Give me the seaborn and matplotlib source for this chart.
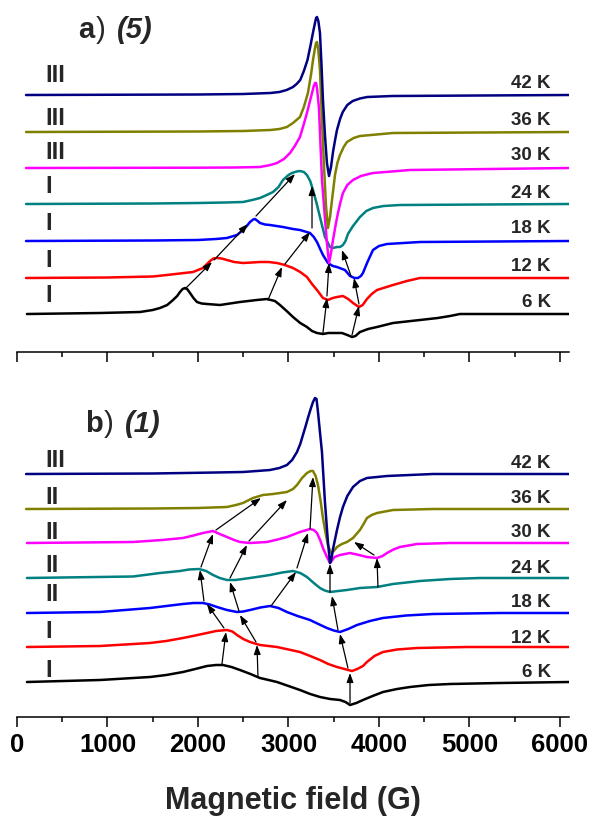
import numpy as np
import pandas as pd
import matplotlib
matplotlib.use('Agg')
import matplotlib.pyplot as plt
import seaborn as sns
from matplotlib.ticker import MultipleLocator

# ---------------- data ----------------
temps = ['6 K', '12 K', '18 K', '24 K', '30 K', '36 K', '42 K']
colors = ['#000000', '#FF0000', '#0000FF', '#008080', '#FF00FF', '#808000', '#000080']

a_offsets = [38, 74, 111, 148, 184, 220, 257]
b_offsets = [35, 70, 104, 139, 174, 208, 243]
a_phases = ['I', 'I', 'I', 'I', 'III', 'III', 'III']
b_phases = ['I', 'I', 'II', 'II', 'II', 'II', 'III']

# panel a) (5)
a06_field = [110, 917, 1359, 1500, 1580, 1660, 1724, 1770, 1801, 1830, 1856, 1880, 1912, 1950, 1989, 2040, 2099, 2243, 2464, 2650, 2762, 2850, 2906, 2980, 3050, 3130, 3204, 3260, 3315, 3381, 3440, 3492, 3591, 3650, 3702, 3740, 3790, 3880, 3978, 4155, 4453, 4650, 4785, 4895, 6100]
a06_signal = [0, 1, 2, 4, 6, 9, 14, 18, 22, 25, 26, 25, 21, 16, 12, 10.5, 10, 9, 12, 14, 15, 13, 9, 3, -3, -9, -13, -17, -19, -20, -19, -19, -19, -21, -23, -22, -18, -15, -13, -9, -6, -4, -2, 0, 0]
a12_field = [100, 1000, 1500, 1657, 1800, 1945, 2000, 2055, 2100, 2133, 2170, 2210, 2260, 2320, 2400, 2497, 2600, 2685, 2780, 2873, 2960, 3050, 3130, 3204, 3260, 3315, 3381, 3436, 3490, 3536, 3602, 3660, 3713, 3779, 3820, 3867, 3920, 3978, 4155, 4309, 4453, 6100]
a12_signal = [0, 0.5, 1.5, 3, 4.5, 6, 8, 10, 14, 17, 19.5, 20, 19.5, 18, 16, 15, 15.5, 16, 16, 15, 13, 10, 6, 1, -6, -12, -20, -22, -20, -19, -18, -21, -25, -29, -27, -21, -16, -12, -7, -3, 0, 0]
a18_field = [100, 1500, 2000, 2200, 2320, 2431, 2497, 2540, 2575, 2610, 2630, 2660, 2685, 2740, 2796, 2939, 3050, 3127, 3238, 3280, 3315, 3350, 3381, 3436, 3490, 3536, 3624, 3680, 3730, 3768, 3800, 3823, 3850, 3878, 3934, 4000, 4088, 4453, 6100]
a18_signal = [0, 0.5, 1, 2, 3, 6, 11, 15, 19, 21.5, 22, 20, 18, 16.5, 16, 14, 12, 11, 8, 4, -1, -8, -14, -22, -25, -26, -29, -35, -37, -37, -35, -32, -26, -20, -9, -5, -3, -1, 0]
a24_field = [100, 1500, 2000, 2300, 2497, 2600, 2685, 2760, 2829, 2890, 2939, 3000, 3039, 3090, 3127, 3170, 3204, 3240, 3271, 3310, 3348, 3403, 3459, 3492, 3536, 3569, 3602, 3630, 3657, 3713, 3790, 3860, 3934, 4050, 4232, 6100]
a24_signal = [0, 0.5, 1, 1.5, 2, 4, 6, 9, 12, 17, 24, 29, 31, 32.5, 33, 32, 29, 23, 14, 1, -13, -33, -43, -44, -43, -43, -41, -37, -30, -22, -13, -7, -4, -2, -1, 0]
a30_field = [100, 2000, 2400, 2685, 2800, 2873, 2950, 3017, 3070, 3127, 3170, 3204, 3235, 3260, 3280, 3293, 3305, 3315, 3337, 3370, 3403, 3425, 3448, 3470, 3492, 3525, 3547, 3575, 3602, 3650, 3713, 3800, 3934, 4343, 6100]
a30_signal = [0, 0.3, 0.5, 1, 3, 5, 9, 15, 22, 31, 44, 55, 66, 75, 82, 85, 85, 80, 60, -12, -50, -75, -95, -85, -72, -55, -45, -34, -25, -17, -12, -8, -5, -2, 0]
a36_field = [100, 2000, 2500, 2800, 2900, 2983, 3050, 3127, 3170, 3215, 3250, 3271, 3293, 3305, 3315, 3330, 3348, 3370, 3392, 3414, 3436, 3459, 3481, 3514, 3540, 3569, 3610, 3646, 3720, 3790, 4155, 6100]
a36_signal = [0, 0.5, 1, 2, 3, 5, 9, 15, 25, 39, 58, 72, 84, 89, 90, 82, 62, 12, -33, -73, -96, -85, -68, -43, -31, -23, -15, -10, -6, -4, -1, 0]
a42_field = [100, 2000, 2500, 2800, 2900, 2980, 3050, 3090, 3130, 3170, 3210, 3240, 3270, 3295, 3305, 3315, 3330, 3348, 3365, 3381, 3403, 3425, 3448, 3470, 3492, 3515, 3536, 3570, 3600, 3650, 3710, 3790, 3870, 4150, 6100]
a42_signal = [0, 0.5, 1, 2, 3, 5, 8, 11, 15, 24, 35, 48, 62, 73, 77, 78, 74, 62, 30, -5, -40, -68, -81, -72, -57, -45, -35, -24, -17, -10, -6, -3.5, -2, -1, 0]

# panel b) (1)
b06_field = [110, 917, 1470, 1650, 1834, 1970, 2099, 2200, 2276, 2370, 2464, 2580, 2685, 2780, 2873, 3000, 3127, 3240, 3348, 3460, 3569, 3630, 3680, 3750, 3823, 3930, 4044, 4200, 4343, 4550, 4785, 5337, 6100]
b06_signal = [0, 2, 5, 7, 10, 13, 16, 17, 17, 15, 12, 8, 4, 2, 0, -4, -8, -12, -15, -17, -18, -20, -23, -21, -18, -14, -10, -7, -5, -3, -2, -1, 0]
b12_field = [110, 917, 1470, 1650, 1834, 1970, 2099, 2200, 2320, 2380, 2431, 2500, 2575, 2685, 2780, 2873, 3000, 3127, 3240, 3348, 3440, 3536, 3620, 3702, 3760, 3823, 3867, 3950, 4044, 4200, 4420, 4972, 6100]
b12_signal = [0, 1, 4, 6, 9, 11.5, 14, 16, 17, 15.5, 12, 8, 5, 2, 1, 0, -2.5, -5, -9, -13, -17, -20, -22, -24, -22, -19, -15, -9, -5, -2.5, -1, 0, 0]
b18_field = [110, 917, 1470, 1650, 1834, 1950, 2055, 2130, 2210, 2320, 2431, 2500, 2575, 2690, 2796, 2890, 2983, 3100, 3238, 3330, 3425, 3500, 3569, 3660, 3757, 3900, 4044, 4300, 4597, 5337, 6100]
b18_signal = [0, 1, 5, 7, 9, 10, 10, 8.5, 6, 3, 1, 1.5, 3, 5.5, 7, 5, 1, -3, -7, -11, -15, -17.5, -19, -16, -12, -8, -5, -2.5, -1, 0, 0]
b24_field = [110, 1282, 1580, 1801, 1900, 2011, 2090, 2166, 2240, 2320, 2410, 2497, 2650, 2796, 2930, 3050, 3130, 3204, 3280, 3348, 3400, 3459, 3550, 3646, 3790, 3978, 4155, 4453, 4785, 5116, 6100]
b24_signal = [0, 1.5, 5, 7, 8.5, 9, 7, 3, 0, -2, -2, -1, 1, 3, 5.5, 7, 5, 1, -5, -10, -12.5, -14, -13, -12, -10, -9, -6, -3, -1, 0, 0]
b30_field = [110, 1282, 1600, 1834, 1950, 2055, 2166, 2240, 2320, 2400, 2464, 2575, 2762, 2880, 2983, 3127, 3238, 3280, 3315, 3350, 3381, 3420, 3459, 3510, 3569, 3680, 3780, 3867, 3978, 4040, 4088, 4160, 4232, 4420, 4785, 6100]
b30_signal = [0, 1, 3, 5, 7.5, 10, 12, 9, 6, 3, 1, 0, 1, 3.5, 6, 11, 14, 13, 10, 3, -5, -13, -20, -14, -12, -10, -12, -14, -15, -13, -10, -6.5, -4, -1, 0, 0]
b36_field = [100, 1500, 2000, 2320, 2420, 2497, 2608, 2718, 2829, 2983, 3050, 3094, 3150, 3204, 3245, 3271, 3300, 3326, 3355, 3381, 3410, 3436, 3470, 3500, 3536, 3590, 3646, 3713, 3790, 3830, 3867, 3920, 3978, 4155, 4597, 6100]
b36_signal = [0, 0.5, 1, 2, 4, 6, 11, 14, 15, 17, 20, 24, 31, 36, 38, 38, 33, 24, 8, -9, -24, -36, -44, -42, -38, -35, -33, -29, -21, -15, -9, -6, -4, -1, 0, 0]
b42_field = [100, 1500, 2200, 2497, 2650, 2796, 2900, 2983, 3040, 3094, 3130, 3160, 3190, 3215, 3245, 3271, 3293, 3310, 3326, 3350, 3370, 3403, 3436, 3459, 3475, 3492, 3536, 3570, 3602, 3650, 3713, 3790, 3867, 4088, 4597, 6100]
b42_signal = [0, 0.5, 1.5, 2, 3, 4, 6, 9, 14, 22, 30, 39, 48, 56, 65, 72, 76, 75, 62, 40, 22, -28, -68, -89, -85, -75, -56, -43, -33, -22, -13, -7, -4, -2, 0, 0]

# arrows (tail field, tail y, head field, head y)
a_arrows = [
    (1856, 63, 2155, 90), (2177, 92, 2552, 128), (2641, 136, 3072, 178),
    (2773, 52, 2928, 85), (2961, 88, 3238, 120), (3260, 124, 3260, 166),
    (3381, 19, 3425, 54), (3425, 56, 3448, 89),
    (3702, 17, 3779, 46), (3779, 48, 3724, 74), (3691, 76, 3591, 102),
]
b_arrows = [
    (2265, 53, 2309, 85), (2287, 89, 2099, 113), (2066, 116, 2022, 147),
    (2033, 150, 2166, 183), (2199, 187, 2696, 219),
    (2663, 40, 2652, 72), (2641, 75, 2464, 102), (2453, 106, 2354, 135),
    (2354, 139, 2541, 172), (2564, 176, 2983, 217),
    (2807, 111, 3083, 145), (3094, 149, 3215, 184), (3238, 188, 3271, 240),
    (3680, 14, 3680, 44), (3657, 49, 3569, 83), (3547, 87, 3481, 121),
    (3459, 125, 3459, 153),
    (3989, 130, 3978, 159), (3945, 162, 3724, 175),
]

a_curves = [(a06_field, a06_signal), (a12_field, a12_signal), (a18_field, a18_signal),
            (a24_field, a24_signal), (a30_field, a30_signal), (a36_field, a36_signal),
            (a42_field, a42_signal)]
b_curves = [(b06_field, b06_signal), (b12_field, b12_signal), (b18_field, b18_signal),
            (b24_field, b24_signal), (b30_field, b30_signal), (b36_field, b36_signal),
            (b42_field, b42_signal)]

# label placement (layout)
a_phase_y = [50, 85, 122, 159, 193, 227, 270]
b_phase_y = [40, 79, 116, 145, 178, 213, 250]
a_temp_y = [45, 81, 119, 154, 192, 227, 264]
b_temp_y = [40, 74, 110, 144, 180, 214, 249]


def build_df(curves, offsets):
    rows = []
    for t, (f, s), off in zip(temps, curves, offsets):
        for fi, si in zip(f, s):
            rows.append({'field': fi, 'y': si + off, 'temp': t})
    return pd.DataFrame(rows)


sns.set_style('white')
plt.rcParams['font.family'] = ['Liberation Sans', 'DejaVu Sans']
plt.rcParams['font.weight'] = 'bold'

fig = plt.figure(figsize=(5.92, 8.16), dpi=100)
axA = fig.add_axes([17 / 592, 1 - 352 / 816, 552 / 592, 342 / 816])
axB = fig.add_axes([17 / 592, 1 - 717 / 816, 552 / 592, 337 / 816])

panels = [
    (axA, a_curves, a_offsets, a_arrows, a_phases, a_phase_y, a_temp_y, 342,
     ('a', 674, ')', 873, '(5)', 1105, 314)),
    (axB, b_curves, b_offsets, b_arrows, b_phases, b_phase_y, b_temp_y, 337,
     ('b', 751, ')', 961, '(1)', 1193, 285)),
]

for ax, curves, offsets, arrows, phases, phase_y, temp_y, ytop, title in panels:
    df = build_df(curves, offsets)
    sns.lineplot(data=df, x='field', y='y', hue='temp', hue_order=temps,
                 palette=colors, estimator=None, sort=False, legend=False,
                 linewidth=1.8, ax=ax)
    for ln in ax.get_lines():
        ln.set_solid_joinstyle('round')
    ax.set_xlim(0, 6100)
    ax.set_ylim(0, ytop)
    for sp in ['left', 'top', 'right']:
        ax.spines[sp].set_visible(False)
    ax.spines['bottom'].set_linewidth(1.1)
    ax.spines['bottom'].set_color('black')
    ax.set_yticks([])
    ax.set_xlabel('')
    ax.set_ylabel('')
    ax.xaxis.set_major_locator(MultipleLocator(1000))
    ax.xaxis.set_minor_locator(MultipleLocator(500))
    ax.tick_params(axis='x', which='major', length=7.2, width=1.1, direction='out',
                   bottom=True, labelsize=18.5, pad=4, colors='black')
    ax.tick_params(axis='x', which='minor', length=3.8, width=1.1, direction='out',
                   bottom=True, colors='black')
    for (x0, y0, x1, y1) in arrows:
        ax.annotate('', xy=(x1, y1), xytext=(x0, y0),
                    arrowprops=dict(arrowstyle='-|>,head_length=0.55,head_width=0.2',
                                    mutation_scale=10, color='black', lw=0.9,
                                    shrinkA=0, shrinkB=0))
    for ph, py in zip(phases, phase_y):
        ax.text(310, py, ph, fontsize=17, fontweight='bold', ha='left', va='baseline')
    for t, ty in zip(temps, temp_y):
        ax.text(5900, ty, t, fontsize=13.5, fontweight='bold', ha='right', va='baseline')
    l1, x1, l2, x2, l3, x3, ty = title
    ax.text(x1, ty, l1, fontsize=21, fontweight='bold', va='baseline')
    ax.text(x2, ty, l2, fontsize=21, fontweight='normal', va='baseline')
    ax.text(x3, ty, l3, fontsize=21, fontweight='bold', fontstyle='italic', va='baseline')

axA.tick_params(labelbottom=False)
for lbl in axB.get_xticklabels():
    lbl.set_fontweight('bold')

fig.text(293 / 592, 1 - 809 / 816, 'Magnetic field (G)', ha='center', va='baseline',
         fontsize=22, fontweight='bold')

fig.savefig('out.png', dpi=100)
